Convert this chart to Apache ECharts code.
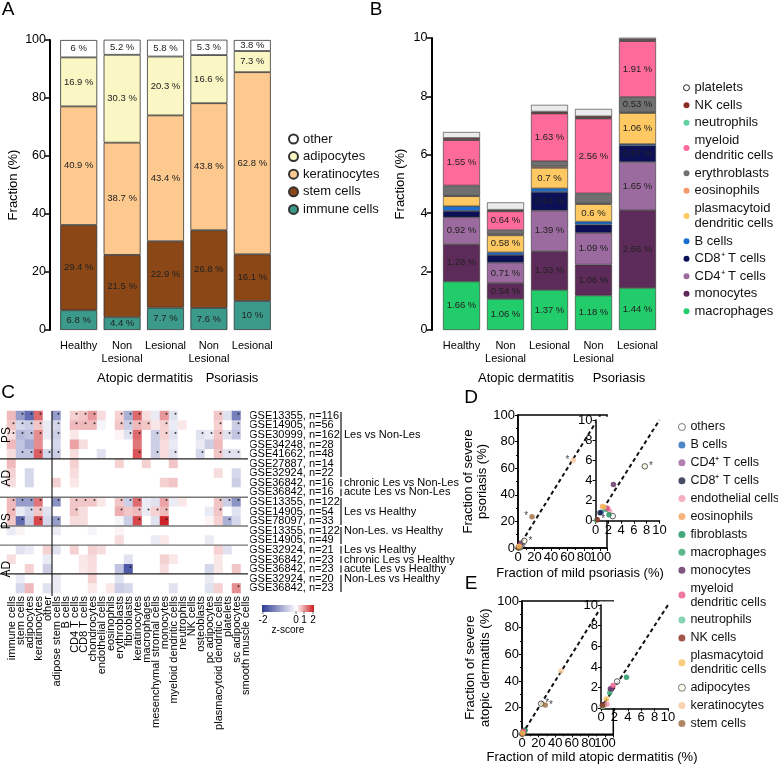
<!DOCTYPE html>
<html><head><meta charset="utf-8">
<script src="https://cdn.jsdelivr.net/npm/echarts@6/dist/echarts.min.js"></script>
<style>html,body{margin:0;padding:0;background:#fff}#c{width:778px;height:764px}</style>
</head><body><div id="c"></div>
<script>
// ================= DATA =================
const groupsX = ['Healthy', 'Non\nLesional', 'Lesional', 'Non\nLesional', 'Lesional'];
// Panel A (%)
const aImmune = [6.8, 4.4, 7.7, 7.6, 10];
const aStem   = [29.4, 21.5, 22.9, 26.8, 16.1];
const aKerat  = [40.9, 38.7, 43.4, 43.8, 62.8];
const aAdipo  = [16.9, 30.3, 20.3, 16.6, 7.3];
const aOther  = [6, 5.2, 5.8, 5.3, 3.8];
// Panel B (%)
const bMacro = [1.66, 1.06, 1.37, 1.18, 1.44];
const bMono  = [1.28, 0.54, 1.33, 1.06, 2.66];
const bCD4   = [0.92, 0.71, 1.39, 1.09, 1.65];
const bCD8   = [0.22, 0.26, 0.64, 0.28, 0.57];
const bBcell = [0.16, 0.09, 0.12, 0.10, 0.05];
const bPDC   = [0.34, 0.58, 0.70, 0.60, 1.06];
const bEos   = [0.02, 0.03, 0.05, 0.02, 0.02];
const bEry   = [0.35, 0.15, 0.18, 0.35, 0.53];
const bMDC   = [1.55, 0.64, 1.63, 2.56, 1.91];
const bNeut  = [0.02, 0.02, 0.02, 0.02, 0.02];
const bNK    = [0.06, 0.04, 0.05, 0.06, 0.05];
const bPlat  = [0.20, 0.25, 0.23, 0.25, 0.12];
// Panel C heatmap
const heatCols = ['immune cells','stem cells','adipocytes','keratinocytes','other','adipose stem cells','B cells','CD4 T cells','CD8 T cells','chondrocytes','endothelial cells','eosinophils','erythroblasts','fibroblasts','keratinocytes','macrophages','mesenchymal stromal cells','monocytes','myeloid dendritic cells','neutrophils','NK cells','osteoblasts','pc adipocytes','plasmacytoid dendritic cells','platelets','sc adipocytes','smooth muscle cells'];
const heatRows = ['GSE13355, n=116','GSE14905, n=56','GSE30999, n=162','GSE34248, n=28','GSE41662, n=48','GSE27887, n=14','GSE32924, n=22','GSE36842, n=16','GSE36842, n=16','GSE13355, n=122','GSE14905, n=54','GSE78097, n=33','GSE13355, n=122','GSE14905, n=49','GSE32924, n=21','GSE36842, n=23','GSE36842, n=23','GSE32924, n=20','GSE36842, n=23'];
const zRow0  = [0.6,-1.0,-1.5,1.3,0, -1.0,0,0.4,0.5,0.9, 0.3,0,0.4,-0.8,1.3, 0.3,-0.2,0.9,-0.3,0, 0,0,0,0.5,-0.3, -1.3,0];
const zRow1  = [0.5,-0.4,-0.5,0.5,-0.2, -0.4,0,0.6,0.6,0.6, -0.1,0,0.5,-0.5,0.6, 0.5,0.2,0.4,-0.2,0.2, 0,0,0,0.4,0, -0.5,0];
const zRow2  = [0.3,-0.7,-0.6,1.0,-0.2, -0.5,0,0.2,0,0, 0,0,0.1,-0.3,1.3, 0,-0.5,0.4,-0.3,0, 0,-0.3,-0.2,0.5,-0.3, -0.6,0];
const zRow3  = [0.6,-0.6,-0.9,1.0,0, -0.4,0,0.8,0.3,0, 0,0,0,0,1.2, 0,-0.5,0.3,-0.2,0, 0,-0.2,-0.5,0.6,0, 0,0];
const zRow4  = [0.3,-0.6,-0.6,1.4,-0.4, -0.5,0,0.3,0,0, -0.3,0,0,0,1.5, 0,-0.5,0.3,-0.3,0, 0,-0.4,0,0.5,-0.3, -0.3,0];
const zRow5  = [0.6,0,0,0,0, 0,0,0.4,0,0, 0,0,0.4,0,0, 0.4,0,0,0.5,0, 0,0,0,0,0, 0,0];
const zRow6  = [0.4,0,-0.4,0,0, 0,0,0.3,0,0, 0,0,0,0,0, 0,0,0,0,0, 0,0,0,0.3,0, -0.4,0];
const zRow7  = [0.3,0,-0.4,0,0, 0.4,0,0.2,0,0, 0,0,0,0,0, 0,0,0.4,0.5,0, 0,0,0,0,0, -0.5,0];
const zRow8  = [0,0,0,0,0, 0,0,0,0,0, 0,0,0,0,0, 0,0,0,0,0, 0,0,0,0,0, 0,0];
const zRow9  = [0.6,-1.0,-1.0,1.2,0, -1.1,0,0.5,0.5,0.5, 0.2,0,0.5,-0.5,1.3, -0.2,-0.3,0.8,-0.2,0.2, 0,0,0,0.5,-0.5, -1.1,0];
const zRow10 = [0.6,-0.2,-0.4,0.5,-0.3, 0,0,0.5,0.3,0, 0,0,0.7,0.5,0.6, -0.2,0.4,0.6,0,0, 0,0,-0.2,0.5,0, -0.3,0];
const zRow11 = [0.5,-1.5,-0.5,1.6,-0.4, -1.0,0,0.3,0.3,0, 0,0,-0.1,-0.5,1.6, 0,-0.3,1.9,0,0, 0,0,0.1,0.4,-0.8, -0.4,0];
const zRow12 = [-0.2,0.1,0,0,0, -0.2,0,0,0,-0.1, 0,0,0.1,0,0, 0,0,0,0,0, 0,0,0,0,0, 0,0];
const zRow13 = [0,0,0,0,0, 0,0,0,0,0, 0,0,0.3,0,0, 0,-0.2,0.2,0,0, 0,0,-0.2,0,0, 0,0];
const zRow14 = [0,-0.3,-0.2,0,0.4, -0.3,0,0.4,0,0.4, 0.3,0,0,0,0, 0,0,0,0,0, 0,0,0,0.4,-0.3, 0,0];
const zRow15 = [0.3,0,0,0,-0.2, 0,0,0,0.2,0.3, 0,0,0,-0.3,0, 0,0,0.4,0.2,0, 0,0,0,0.2,0, 0,0];
const zRow16 = [0,0,0.4,0,-0.5, 0,0,0,0.2,0.3, 0,0,-0.6,-1.7,0, 0,0,0.3,0,0, 0,0,-0.4,0.2,0, 0.5,0];
const zRow17 = [0,-0.2,0,0,0, -0.2,0,0,0,0.4, 0,0,-0.3,0,0, 0,0,0,0,0, 0,0,-0.2,0,0, 0,0];
const zRow18 = [0,-0.4,0.6,0,-0.3, -0.2,0,0,0,0.2, 0,0.2,-0.5,-0.4,0, 0,0,0,-0.3,0, 0,0,-0.3,0.4,0, 1.0,0];
// significance dots: row index -> column indices
const sigRow0  = [1,2,3,5,7,8,9,12,13,14,17,18,23,25];
const sigRow1  = [0,1,2,3,5,7,8,9,12,13,14,15,17,23,25];
const sigRow2  = [0,1,2,3,5,13,14,16,17,18,21,22,23,24,25];
const sigRow4  = [1,2,3,4,5,14,16,18,21,23,24,25];
const sigRow9  = [0,1,2,3,5,7,8,9,12,13,14,17,23,24,25];
const sigRow10 = [0,2,3,7,12,14,15,16,17,23];
const sigRow11 = [1,3,5,14,17,24];
const sigRow16 = [13];
const sigRow18 = [25];
const groupLabelsC = ['PS','AD','PS','AD'];
const compLabels = ['Les vs Non-Les','chronic Les vs Non-Les','acute Les vs Non-Les','Les vs Healthy','Non-Les. vs Healthy','Les vs Healthy','chronic Les vs Healthy','acute Les vs Healthy','Non-Les vs Healthy'];
const zTicks = ['-2','0','1','2'];
// Panels D / E : [mild, severe] fractions (%)
const deTypes = ['others','B cells','CD4⁺ T cells','CD8⁺ T cells','endothelial cells','eosinophils','fibroblasts','macrophages','monocytes','myeloid\ndendritic cells','neutrophils','NK cells','plasmacytoid\ndendritic cells','adipocytes','keratinocytes','stem cells'];
const dMild   = [2.7, 0.9, 1.7, 0.7, 2.2, 1.1, 2.1, 1.6, 2.8, 1.9, 0.1, 0.3, 1.3, 7.7, 67, 17];
const dSevere = [0.45,0.85,1.25,0.8, 0.95,1.4, 0.6, 1.1, 3.6, 1.2, 0.05,0.1, 1.35,5.4, 66, 23.5];
const eMild   = [2.4, 0.4, 1.5, 0.5, 0.9, 0.3, 3.8, 1.3, 1.4, 1.8, 0.2, 0.2, 0.8, 23, 47, 28];
const eSevere = [2.6, 0.3, 1.8, 0.4, 0.4, 0.2, 3.0, 1.5, 1.9, 2.2, 0.2, 0.3, 0.9, 23, 47.5, 22];
const diagMain = [[0, 0], [100, 100]];
const diagInset = [[0, 0], [10, 10]];

// ================= STYLE / LAYOUT =================
const FONT = 'Liberation Sans, Arial, Helvetica, sans-serif';
const deColors = ['#ffffff','#2166b8','#a0609f','#1c2040','#f29bb0','#f4a15c','#17925a','#35a86e','#5e2a5e','#e8578a','#66c9a1','#8b2b1c','#f7c05a','#fdfbe6','#f9c89b','#9b6a3c'];
const starD = {'adipocytes':'right','keratinocytes':'left','stem cells':'left','NK cells':'right'};
const starE = {'adipocytes':'right','stem cells':'right'};

const chart = echarts.init(document.getElementById('c'), null, {renderer:'canvas', width:778, height:764});
const series = [];
const noEmph = {disabled:true};

// ---- Panel A
[['immune cells', aImmune, '#3b9a89'], ['stem cells', aStem, '#8b4716'], ['keratinocytes', aKerat, '#fdc98e'], ['adipocytes', aAdipo, '#faf7c5'], ['other', aOther, '#ffffff']]
.forEach(([name, vals, color]) => series.push({
  type:'bar', name, data: vals, stack:'A', xAxisIndex:0, yAxisIndex:0, barWidth:37,
  itemStyle:{color, borderColor:'#333', borderWidth:0.8},
  label:{show:true, position:'inside', formatter: p => p.value + ' %', fontSize:9.5, color:'#222', fontFamily:FONT},
  emphasis:noEmph
}));
// ---- Panel B
const bDefs = [['macrophages', bMacro, '#22cc6a'], ['monocytes', bMono, '#5c2b5a'], ['CD4⁺ T cells', bCD4, '#9b6a9e'], ['CD8⁺ T cells', bCD8, '#0b1057'], ['B cells', bBcell, '#1a6fd0'], ['plasmacytoid\ndendritic cells', bPDC, '#fec862'], ['eosinophils', bEos, '#f39a6b'], ['erythroblasts', bEry, '#707070'], ['myeloid\ndendritic cells', bMDC, '#fe6a9a'], ['neutrophils', bNeut, '#64d0a0'], ['NK cells', bNK, '#8a3020'], ['platelets', bPlat, '#ebebeb']];
bDefs.forEach(([name, vals, color]) => series.push({
  type:'bar', name, data: vals, stack:'B', xAxisIndex:1, yAxisIndex:1, barWidth:37,
  itemStyle:{color, borderColor:'#333', borderWidth:0.6},
  label:{show:true, position:'inside', formatter: p => p.value >= 0.5 ? p.value + ' %' : '', fontSize:9.5, color:'#222', fontFamily:FONT},
  emphasis:noEmph
}));
// ---- Panel C
const zRows = [zRow0,zRow1,zRow2,zRow3,zRow4,zRow5,zRow6,zRow7,zRow8,zRow9,zRow10,zRow11,zRow12,zRow13,zRow14,zRow15,zRow16,zRow17,zRow18];
const heatData = [];
zRows.forEach((row, r) => row.forEach((v, c) => heatData.push([c, r, v])));
const heatIndex = series.length;
series.push({type:'heatmap', xAxisIndex:2, yAxisIndex:2, data: heatData, emphasis:noEmph, progressive:0});
const sigMap = {0:sigRow0,1:sigRow1,2:sigRow2,4:sigRow4,9:sigRow9,10:sigRow10,11:sigRow11,16:sigRow16,18:sigRow18};
const sigData = [];
Object.keys(sigMap).forEach(r => sigMap[r].forEach(c => sigData.push([c, +r])));
series.push({type:'scatter', xAxisIndex:2, yAxisIndex:2, data: sigData, symbolSize:2, symbolOffset:[2,-2], itemStyle:{color:'#111'}, silent:true, z:3});
// ---- Panels D / E
const panels = [
  {x:3, y:3, mild:dMild, sev:dSevere, stars:starD, z:2},
  {x:4, y:4, mild:dMild, sev:dSevere, stars:starD, z:7},
  {x:5, y:5, mild:eMild, sev:eSevere, stars:starE, z:2},
  {x:6, y:6, mild:eMild, sev:eSevere, stars:starE, z:7}
];
panels.forEach((p, pi) => {
  series.push({type:'line', name:'diag', xAxisIndex:p.x, yAxisIndex:p.y, data: (pi % 2 === 0) ? diagMain : diagInset,
    showSymbol:false, symbol:'none', lineStyle:{color:'#111', width:2, type:[4,3]}, z:p.z, silent:true, clip:true});
  deTypes.forEach((t, i) => {
    const hollow = (t === 'others' || t === 'adipocytes');
    const side = p.stars[t];
    series.push({type:'scatter', name:'de_' + i, xAxisIndex:p.x, yAxisIndex:p.y, z:p.z + 0.5,
      data:[{value:[p.mild[i], p.sev[i]], label: side ? {show:true, formatter:'*', position:side, distance:1, fontSize:10, color:'#111'} : {show:false}}],
      symbolSize:5.5,
      itemStyle:{color: deColors[i], borderColor: hollow ? '#333' : deColors[i], borderWidth: hollow ? 1 : 0},
      emphasis:noEmph});
  });
});

// ---- axes
const axLbl = (size) => ({fontSize:size, color:'#000', fontFamily:FONT});
const xAxes = [
  {type:'category', gridIndex:0, data:groupsX, axisLine:{show:false}, axisTick:{show:false}, axisLabel:{...axLbl(11), interval:0, margin:9, lineHeight:13}},
  {type:'category', gridIndex:1, data:groupsX, axisLine:{show:false}, axisTick:{show:false}, axisLabel:{...axLbl(11), interval:0, margin:9, lineHeight:13}},
  {type:'category', gridIndex:2, data:heatCols, axisLine:{show:false}, axisTick:{show:false}, splitLine:{show:false},
    axisLabel:{...axLbl(11), rotate:90, interval:0, margin:3}},
  {type:'value', gridIndex:3, min:0, max:108, interval:20, splitLine:{show:false}, axisLine:{lineStyle:{color:'#000', width:1.5}},
    axisTick:{length:3, lineStyle:{color:'#000'}}, minorTick:{show:true, splitNumber:2, length:2, lineStyle:{color:'#000'}},
    axisLabel:{...axLbl(13), margin:3, formatter: v => (v % 20 === 0 && v <= 100) ? v : ''}},
  {type:'value', gridIndex:4, min:0, max:10, interval:2, z:6, splitLine:{show:false}, axisLine:{lineStyle:{color:'#000', width:1.5}},
    axisTick:{length:3, lineStyle:{color:'#000'}}, axisLabel:{...axLbl(13), margin:3}},
  {type:'value', gridIndex:5, min:0, max:110, interval:20, splitLine:{show:false}, axisLine:{lineStyle:{color:'#000', width:1.5}},
    axisTick:{length:3, lineStyle:{color:'#000'}}, minorTick:{show:true, splitNumber:2, length:2, lineStyle:{color:'#000'}},
    axisLabel:{...axLbl(13), margin:3, formatter: v => (v % 20 === 0 && v <= 100) ? v : ''}},
  {type:'value', gridIndex:6, min:0, max:10, interval:2, z:6, splitLine:{show:false}, axisLine:{lineStyle:{color:'#000', width:1.5}},
    axisTick:{length:3, lineStyle:{color:'#000'}}, axisLabel:{...axLbl(13), margin:3}}
];
const yName = (name, gap, lh) => ({name, nameLocation:'middle', nameGap:gap, nameTextStyle:{fontSize:13, color:'#000', fontFamily:FONT, lineHeight:lh || 15}});
const yAxes = [
  {type:'value', gridIndex:0, min:0, max:100, interval:20, offset:7, ...yName('Fraction (%)', 27),
    splitLine:{show:false}, axisLine:{show:true, lineStyle:{color:'#000', width:2}}, axisTick:{show:true, length:5, lineStyle:{color:'#000', width:1.5}}, axisLabel:{...axLbl(12.5), margin:4}},
  {type:'value', gridIndex:1, min:0, max:10, interval:2, offset:8, ...yName('Fraction (%)', 24),
    splitLine:{show:false}, axisLine:{show:true, lineStyle:{color:'#000', width:2}}, axisTick:{show:true, length:5, lineStyle:{color:'#000', width:1.5}}, axisLabel:{...axLbl(12.5), margin:4}},
  {type:'category', gridIndex:2, data:heatRows, inverse:true, position:'right', axisLine:{show:false}, axisTick:{show:false}, splitLine:{show:false},
    axisLabel:{...axLbl(11), interval:0, margin:-1, lineHeight:10}},
  {type:'value', gridIndex:3, min:0, max:100, interval:20, ...yName('Fraction of severe\npsoriasis (%)', 17, 14),
    splitLine:{show:false}, axisLine:{lineStyle:{color:'#000', width:1.5}}, axisTick:{length:3, lineStyle:{color:'#000'}},
    minorTick:{show:true, splitNumber:2, length:2, lineStyle:{color:'#000'}}, axisLabel:{...axLbl(13), margin:3}},
  {type:'value', gridIndex:4, min:0, max:10, interval:2, z:6, splitLine:{show:false}, axisLine:{lineStyle:{color:'#000', width:1.5}},
    axisTick:{length:3, lineStyle:{color:'#000'}}, axisLabel:{...axLbl(13), margin:3}},
  {type:'value', gridIndex:5, min:0, max:100, interval:20, ...yName('Fraction of severe\natopic dermatitis (%)', 22, 15),
    splitLine:{show:false}, axisLine:{lineStyle:{color:'#000', width:1.5}}, axisTick:{length:3, lineStyle:{color:'#000'}},
    minorTick:{show:true, splitNumber:2, length:2, lineStyle:{color:'#000'}}, axisLabel:{...axLbl(13), margin:3}},
  {type:'value', gridIndex:6, min:0, max:10, interval:2, z:6, splitLine:{show:false}, axisLine:{lineStyle:{color:'#000', width:1.5}},
    axisTick:{length:3, lineStyle:{color:'#000'}}, axisLabel:{...axLbl(13), margin:3}}
];
// grids (layout)
const GD = {left:518, top:415, width:89, height:133};
const GDi = {left:595.5, top:420, width:64, height:100.7};
const GE = {left:522, top:601, width:91.3, height:133.3};
const GEi = {left:601, top:605, width:67, height:103.3};
const HX = 7, HY = 411, CW = 9, RH = 182 / 19;
const grids = [
  {left:57, top:40, width:217, height:290},
  {left:439.5, top:38, width:220, height:292},
  {left:HX, top:HY, width:CW * 27, height:RH * 19},
  {...GD, show:true, borderColor:'#000', borderWidth:1.5, backgroundColor:'transparent'},
  {...GDi},
  {...GE, show:true, borderColor:'#000', borderWidth:1.5, backgroundColor:'transparent'},
  {...GEi}
];

// ---- graphics (annotations)
const g = [];
const txt = (x, y, text, o = {}) => g.push({type:'text', x, y, rotation:o.rot || 0, z:10, silent:true,
  style:{text, fontSize:o.size || 13, fontFamily:FONT, fill:'#000', align:o.align || 'center', verticalAlign:o.va || 'middle', lineHeight:o.lh}});
const ln = (x1, y1, x2, y2, stroke, w) => g.push({type:'line', z:10, silent:true, shape:{x1, y1, x2, y2}, style:{stroke, lineWidth:w}});
txt(8, 10, 'A', {size:19}); txt(376, 10, 'B', {size:19}); txt(8, 393, 'C', {size:19});
txt(471, 398, 'D', {size:19}); txt(471, 584, 'E', {size:19});
txt(145, 378, 'Atopic dermatitis'); txt(232, 378, 'Psoriasis');
txt(526, 378, 'Atopic dermatitis'); txt(619, 378, 'Psoriasis');
txt(580, 573, 'Fraction of mild psoriasis (%)');
txt(592, 757, 'Fraction of mild atopic dermatitis (%)');
// heatmap separators
const rowTop = r => HY + r * RH;
[[5,'#222'],[9,'#777'],[12,'#777'],[14,'#777'],[17,'#222']].forEach(([r, c]) => ln(0, rowTop(r), 248, rowTop(r), c, 1.4));
ln(HX + 5 * CW, HY, HX + 5 * CW, rowTop(19) + 3, '#111', 1.1);
// group labels PS/AD
[[0,5],[5,9],[9,14],[14,19]].forEach(([a, b], i) => txt(6.5, (rowTop(a) + rowTop(b)) / 2, groupLabelsC[i], {rot:Math.PI / 2, size:12}));
// comparison brackets and labels
[[0,6],[7,7],[8,8],[9,11],[12,13],[14,14],[15,15],[16,16],[17,18]].forEach(([a, b]) => ln(341, rowTop(a) + 1, 341, rowTop(b + 1) - 1, '#111', 1.2));
[2,7,8,10,12,14,15,16,17].forEach((r, i) => txt(344, rowTop(r) + RH / 2, compLabels[i], {align:'left', size:11}));
// colorbar
g.push({type:'rect', z:10, silent:true, shape:{x:262, y:605, width:52, height:7},
  style:{fill:{type:'linear', x:0, y:0, x2:1, y2:0, colorStops:[{offset:0, color:'#2d3b96'}, {offset:0.66, color:'#ffffff'}, {offset:1, color:'#cc1a1f'}]}}});
[263, 296, 304, 313].forEach((x, i) => { ln(x, 611, x, 614, '#555', 0.8); txt(x, 620, zTicks[i], {size:10}); });
txt(288, 630, 'z-score', {size:10});
// inset covers (white background of the inset plots)
g.push({type:'rect', z:5, silent:true, shape:{x:GDi.left, y:GDi.top - 3.3, width:GDi.width + 6, height:GDi.height + 3.3}, style:{fill:'#fff'}});
g.push({type:'rect', z:5, silent:true, shape:{x:GEi.left - 1.5, y:GEi.top - 3.5, width:GEi.width + 6, height:GEi.height + 3.5}, style:{fill:'#fff'}});

// ---- legends
const deLegend = deTypes.map((t, i) => {
  const hollow = (t === 'others' || t === 'adipocytes');
  return hollow ? {name:'de_' + i, itemStyle:{borderWidth:0.8, borderColor:'#333'}} : {name:'de_' + i};
});
const option = {
  animation:false,
  textStyle:{fontFamily:FONT},
  grid:grids, xAxis:xAxes, yAxis:yAxes, series,
  visualMap:[{type:'continuous', show:false, seriesIndex:heatIndex, min:-2, max:2, dimension:2,
    inRange:{color:['#2d3b96', '#ffffff', '#cc1a1f']}}],
  legend:[
    {data:['other','adipocytes','keratinocytes','stem cells','immune cells'], orient:'vertical', left:283, top:127.5,
      itemWidth:9, itemHeight:9, icon:'circle', itemGap:4.6, selectedMode:false, textStyle:{fontSize:13, color:'#111'}},
    {data:bDefs.slice().reverse().map(d => d[0] === 'platelets' ? {name:'platelets', itemStyle:{color:'#fff', borderColor:'#222', borderWidth:1}} : {name:d[0]}),
      orient:'vertical', left:678, top:75, itemWidth:6, itemHeight:6, icon:'circle', itemGap:2, selectedMode:false,
      itemStyle:{borderWidth:0}, textStyle:{fontSize:13, color:'#111', lineHeight:15.5}},
    {data:deLegend, formatter: n => deTypes[+n.slice(3)], orient:'vertical', left:673, top:415, itemWidth:7, itemHeight:7,
      icon:'circle', itemGap:3.9, selectedMode:false, textStyle:{fontSize:12.5, color:'#111', lineHeight:14}}
  ],
  graphic:{elements:g}
};
chart.setOption(option);
</script>
</body></html>
